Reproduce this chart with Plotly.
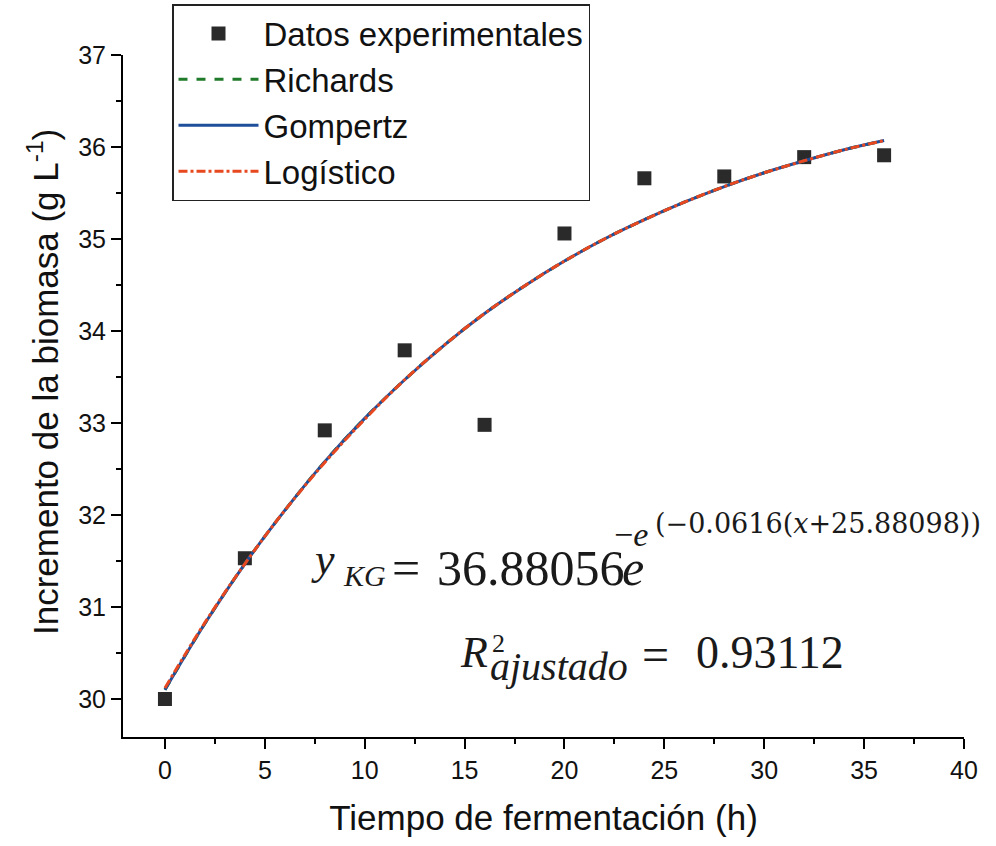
import plotly.graph_objects as go

# ---- data ----
t_exp = [0, 4, 8, 12, 16, 20, 24, 28, 32, 36]
biomasa_exp = [30.00, 31.53, 32.92, 33.79, 32.98, 35.06, 35.66, 35.68, 35.89, 35.91]

t_fit = [0, 2, 4, 6, 8, 10, 12, 14, 16, 18, 20, 22, 24, 26, 28, 30, 32, 34, 36]
richards_fit = [30.10, 30.82, 31.47, 32.05, 32.58, 33.05, 33.47, 33.85, 34.19, 34.49,
                34.76, 35.00, 35.21, 35.40, 35.57, 35.72, 35.85, 35.97, 36.07]
gompertz_fit = [30.10, 30.82, 31.47, 32.05, 32.58, 33.05, 33.47, 33.85, 34.19, 34.49,
                34.76, 35.00, 35.21, 35.40, 35.57, 35.72, 35.85, 35.97, 36.07]
logistico_fit = [30.12, 30.83, 31.47, 32.05, 32.57, 33.04, 33.47, 33.85, 34.19, 34.49,
                 34.76, 35.00, 35.21, 35.40, 35.57, 35.72, 35.85, 35.97, 36.07]

x_ticks = [0, 5, 10, 15, 20, 25, 30, 35, 40]
y_ticks = [30, 31, 32, 33, 34, 35, 36, 37]

x_title = "Tiempo de fermentación (h)"
y_title = "Incremento de la biomasa (g L<sup>-1</sup>)"

W, H = 996, 846
L, R, T, B = 123, 32, 55, 109
PW, PH = W - L - R, H - T - B


def px(xp):
    return (xp - L) / PW


def py(yp):
    return (H - B - yp) / PH


fig = go.Figure()
fig.add_trace(go.Scatter(
    x=t_exp, y=biomasa_exp, mode="markers", name="Datos experimentales",
    marker=dict(symbol="square", size=14, color="#2a2a2a", line=dict(width=0))))
fig.add_trace(go.Scatter(
    x=t_fit, y=richards_fit, mode="lines", name="Richards", line_shape="spline",
    line=dict(color="#1f7a2a", width=3, dash="dash")))
fig.add_trace(go.Scatter(
    x=t_fit, y=gompertz_fit, mode="lines", name="Gompertz", line_shape="spline",
    line=dict(color="#1f4e9a", width=3)))
fig.add_trace(go.Scatter(
    x=t_fit, y=logistico_fit, mode="lines", name="Logístico", line_shape="spline",
    line=dict(color="#e8481f", width=3, dash="dashdot")))

serif = "Liberation Serif"
txt = "#1a1a1a"
ann = []


def a(text, x, y, size, family=serif, xanchor="left", angle=0, color=txt):
    ann.append(dict(text=text, x=px(x), y=py(y), xref="paper", yref="paper",
                    showarrow=False, xanchor=xanchor, yanchor="middle", textangle=angle,
                    font=dict(family=family, size=size, color=color)))


# y_KG = 36.88056 e^{-e^{(...)}}
a("<i>y</i>", 309, 559, 44)
a("<i>KG</i>", 341, 575, 30)
a("=", 390, 568, 50)
a("36.88056", 435, 568, 50)
a("<i>e</i>", 620, 568, 50)
a("−<i>e</i>", 612, 534, 34)
a("(−0.0616(<i>x</i>+25.88098))", 653, 523, 27, "DejaVu Serif")

# R^2_ajustado = 0.93112
a("<i>R</i>", 458, 652, 44)
a("2", 490, 643, 26)
a("<i>ajustado</i>", 488, 666, 40)
a("=", 640, 654, 48)
a("0.93112", 694, 652, 46)

# y axis title
a(y_title, 43, 382, 35, "Liberation Sans", xanchor="center", angle=-90, color="#111111")

fig.update_layout(
    width=W, height=H,
    margin=dict(l=L, r=R, t=T, b=B, autoexpand=False),
    paper_bgcolor="white", plot_bgcolor="white",
    font=dict(family="Liberation Sans", color="#111111"),
    showlegend=True,
    legend=dict(x=px(172), y=py(4), xanchor="left", yanchor="top",
                bordercolor="#222222", borderwidth=1.5, bgcolor="rgba(255,255,255,0)",
                font=dict(size=33, family="Liberation Sans", color="#111111"),
                itemwidth=80, tracegroupgap=0),
    annotations=ann,
)
fig.update_xaxes(
    range=[-2.1, 40], tickvals=x_ticks, ticktext=[str(v) for v in x_ticks],
    showline=True, linecolor="black", linewidth=2, mirror=False,
    ticks="outside", ticklen=10, tickwidth=2, tickcolor="black",
    tickfont=dict(size=25), showgrid=False, zeroline=False,
    minor=dict(dtick=2.5, tick0=0, ticks="outside", ticklen=5, tickwidth=2, tickcolor="black"),
    title=dict(text=x_title, font=dict(size=35), standoff=22),
)
fig.update_yaxes(
    range=[29.587, 37], tickvals=y_ticks, ticktext=[str(v) for v in y_ticks],
    showline=True, linecolor="black", linewidth=2, mirror=False,
    ticks="outside", ticklen=10, tickwidth=2, tickcolor="black",
    tickfont=dict(size=25), showgrid=False, zeroline=False,
    minor=dict(dtick=0.5, tick0=0, ticks="outside", ticklen=5, tickwidth=2, tickcolor="black"),
)

fig.write_html("out.html")
